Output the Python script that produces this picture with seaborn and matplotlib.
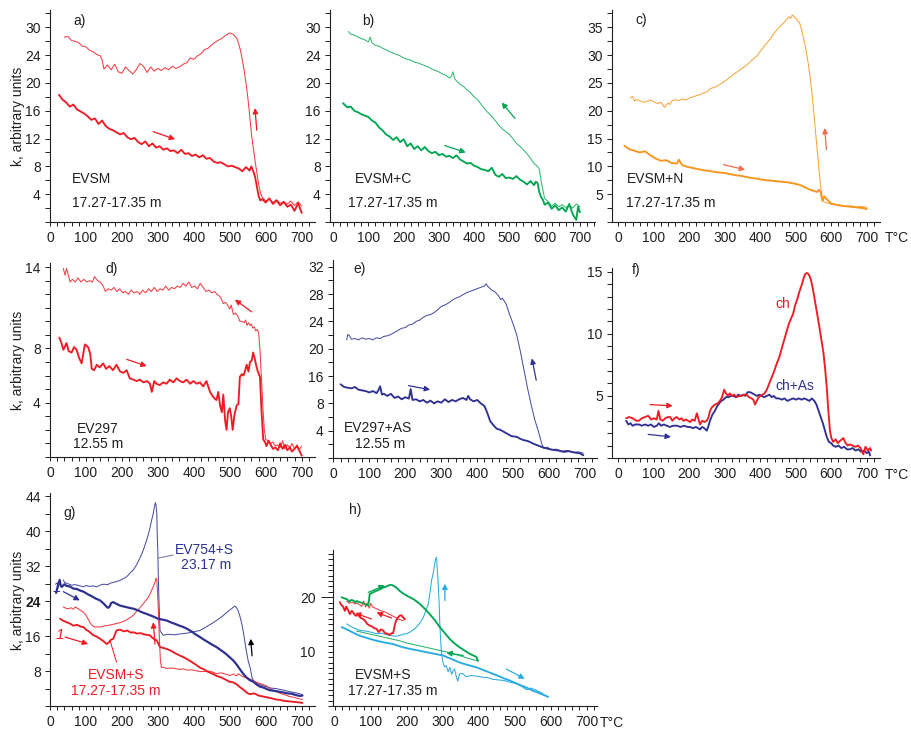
import matplotlib
matplotlib.use("Agg")
import matplotlib.pyplot as plt
import pandas as pd
import seaborn as sns
from matplotlib.ticker import MultipleLocator, FixedLocator, FixedFormatter

# ---------------------------------------------------------------- data
# (temperature °C, susceptibility) pairs; heating and cooling runs

a_heat = [(25,18.3),(35,17.6),(45,17.2),(55,16.6),(65,16.9),(75,16.2),(85,15.9),(95,15.6),(105,15.2),(115,14.7),(125,14.9),(135,14.1),(145,14.6),(155,13.8),(165,13.4),(175,13.2),(185,12.9),(195,12.6),(205,12.8),(215,12.2),(225,11.9),(235,12.1),(245,11.5),(255,11.2),(265,11.6),(275,10.9),(285,11.3),(295,10.7),(305,10.9),(315,10.4),(325,10.6),(335,10.2),(345,10.3),(355,9.9),(365,10.4),(375,9.8),(385,9.9),(395,9.5),(405,9.7),(415,9.3),(425,9.6),(435,9.1),(445,9.2),(455,8.7),(465,8.5),(475,8.6),(485,8.3),(495,8.0),(505,8.1),(515,7.9),(525,7.7),(535,7.3),(545,7.9),(555,7.4),(560,8.0),(565,7.3),(570,6.6),(575,5.2),(580,3.8),(585,3.1),(590,3.3),(600,2.8),(610,3.4),(620,2.6),(630,3.1),(640,2.4),(650,2.9),(660,2.2),(670,2.5),(680,1.6),(690,2.7),(700,1.3)]
a_cool = [(700,2.3),(690,2.9),(680,2.4),(670,3.0),(660,2.6),(650,2.9),(640,2.7),(630,3.2),(620,2.8),(610,3.3),(600,3.0),(590,3.6),(585,4.2),(580,5.5),(575,7.2),(570,8.9),(565,10.8),(560,12.8),(555,15.5),(550,18.0),(545,20.0),(540,21.8),(535,23.3),(530,24.6),(525,25.6),(520,26.4),(510,27.0),(500,27.2),(490,26.9),(480,26.5),(470,26.2),(460,25.9),(450,25.5),(440,25.0),(430,24.8),(420,24.2),(410,23.9),(400,23.4),(390,23.6),(380,22.9),(370,22.7),(360,22.3),(350,22.1),(340,22.4),(330,21.9),(320,22.2),(310,21.8),(300,22.1),(290,21.7),(280,22.3),(270,21.5),(260,22.4),(250,22.8),(240,21.9),(230,21.3),(220,21.8),(210,22.3),(200,21.4),(190,21.6),(180,22.7),(170,21.9),(160,22.6),(150,22.0),(145,23.3),(140,23.9),(130,24.1),(120,24.5),(110,24.7),(100,25.2),(90,25.3),(80,25.8),(70,26.0),(60,26.1),(50,26.7),(40,26.6)]

b_heat = [(28,17.1),(40,16.5),(50,16.6),(60,16.0),(70,15.8),(80,15.5),(90,15.3),(100,15.1),(110,14.6),(120,14.3),(130,13.6),(140,13.2),(150,12.6),(160,12.3),(170,11.8),(180,12.2),(190,11.5),(200,11.9),(210,10.9),(220,11.3),(230,10.5),(240,10.9),(250,10.3),(260,10.8),(270,10.2),(280,9.9),(290,10.1),(300,9.6),(310,9.8),(320,9.4),(330,9.5),(340,9.2),(350,9.6),(360,9.0),(370,8.7),(380,8.4),(390,8.5),(400,8.1),(410,7.9),(420,7.6),(430,7.5),(440,7.3),(450,7.8),(460,6.8),(470,6.5),(480,6.9),(490,6.3),(500,6.4),(510,6.2),(520,6.6),(530,6.1),(540,5.8),(550,5.4),(560,5.9),(570,5.3),(575,5.8),(580,5.6),(585,4.3),(590,3.6),(595,3.2),(600,2.5),(610,2.8),(620,1.9),(630,2.4),(640,1.7),(650,2.1),(660,1.5),(670,2.6),(680,1.1),(690,0.3),(695,2.2),(700,1.4)]
b_cool = [(700,2.2),(690,2.6),(680,2.0),(670,2.4),(660,2.1),(650,2.5),(640,2.2),(630,2.7),(620,2.3),(610,2.9),(600,3.4),(595,4.6),(590,6.0),(585,7.6),(580,8.0),(570,8.4),(560,9.2),(550,9.8),(540,10.4),(530,10.9),(520,11.3),(510,12.0),(500,12.6),(490,13.0),(480,13.4),(470,13.9),(460,14.6),(450,15.2),(440,15.7),(430,16.3),(420,16.9),(410,17.6),(400,18.0),(390,18.6),(380,19.0),(370,19.5),(360,19.8),(350,20.3),(345,20.6),(340,21.6),(335,20.9),(330,20.7),(320,21.1),(310,21.3),(300,21.6),(290,21.8),(280,22.0),(270,22.3),(260,22.5),(250,22.7),(240,22.9),(230,23.0),(220,23.3),(210,23.4),(200,23.6),(190,23.9),(180,24.1),(170,24.3),(160,24.5),(150,24.8),(140,25.0),(130,25.3),(120,25.4),(110,25.8),(105,26.6),(100,25.9),(90,26.2),(80,26.4),(70,26.6),(60,26.9),(50,27.0),(43,27.4)]

c_heat = [(17,13.7),(30,13.1),(45,12.8),(60,12.5),(75,12.7),(90,12.0),(105,11.4),(120,11.0),(135,11.1),(150,10.6),(165,10.5),(170,11.2),(180,10.2),(195,9.9),(210,9.7),(225,9.5),(240,9.3),(255,9.2),(270,9.0),(285,8.9),(300,8.8),(315,8.6),(330,8.4),(345,8.3),(360,8.1),(375,7.9),(390,7.8),(405,7.6),(420,7.5),(435,7.4),(450,7.3),(465,7.2),(480,7.1),(495,6.9),(510,6.7),(520,6.4),(530,6.1),(540,5.8),(550,5.6),(560,5.4),(565,5.8),(570,5.3),(575,3.8),(580,4.6),(590,3.9),(600,3.3),(615,3.1),(630,2.9),(645,2.8),(660,2.7),(675,2.6),(690,2.5),(700,2.3)]
c_cool = [(700,2.6),(685,2.8),(670,2.7),(655,2.9),(640,2.8),(625,3.0),(610,3.1),(600,3.2),(590,3.4),(580,3.6),(575,3.9),(570,6.4),(565,9.5),(560,13.0),(555,16.5),(550,20.1),(545,23.2),(540,26.1),(535,28.4),(530,30.4),(525,32.1),(520,33.5),(515,34.8),(510,35.9),(505,36.1),(500,36.6),(495,36.9),(490,37.2),(485,36.6),(480,36.9),(470,36.1),(460,35.4),(450,34.8),(440,34.0),(430,33.1),(420,32.3),(410,31.5),(400,30.7),(390,29.8),(380,29.3),(370,28.7),(360,28.1),(350,27.7),(340,27.2),(330,26.8),(320,26.3),(310,25.8),(300,25.3),(290,24.9),(280,24.5),(270,24.2),(260,24.0),(250,23.4),(240,23.2),(230,22.9),(220,22.7),(210,22.5),(200,22.3),(190,21.9),(180,22.1),(170,21.8),(160,22.0),(150,21.7),(145,21.1),(140,21.4),(130,20.6),(120,21.5),(110,21.3),(100,21.6),(90,21.9),(80,21.7),(70,21.5),(60,21.8),(50,22.0),(45,21.7),(40,22.6),(33,22.3)]

d_heat = [(26,8.8),(32,8.4),(37,7.9),(46,8.4),(52,7.8),(60,7.7),(67,8.1),(74,7.9),(81,7.3),(88,6.9),(97,8.3),(106,8.1),(112,7.6),(116,6.5),(123,6.4),(130,6.8),(138,6.6),(148,6.9),(156,6.5),(165,6.7),(175,6.4),(185,6.8),(195,6.3),(204,6.2),(213,6.4),(222,5.8),(232,5.7),(241,5.6),(250,5.7),(260,5.5),(270,5.6),(278,5.4),(283,4.8),(290,5.6),(296,5.4),(305,5.3),(315,5.5),(324,5.4),(333,5.7),(343,5.5),(352,5.8),(361,5.6),(370,5.5),(380,5.7),(390,5.4),(399,5.6),(408,5.4),(417,5.5),(426,5.2),(435,5.6),(445,4.8),(452,4.5),(458,4.3),(463,4.2),(468,4.8),(473,3.8),(478,3.3),(482,4.6),(487,2.7),(491,2.0),(495,3.3),(500,3.6),(504,3.0),(508,2.0),(513,3.1),(519,3.8),(524,3.9),(528,5.9),(533,6.1),(538,6.0),(543,6.4),(547,6.8),(552,6.3),(556,7.0),(561,7.1),(565,7.7),(569,7.3),(573,6.8),(578,6.3),(584,5.9),(588,3.5),(593,1.3),(598,1.1),(602,0.8),(608,1.2),(614,0.9),(620,0.6),(627,0.7),(634,0.5),(640,1.0),(647,0.6),(654,0.9),(660,0.5),(667,0.7),(673,0.4),(680,0.6),(687,0.8),(693,0.5),(700,0.1)]
d_cool = [(700,0.8),(693,0.5),(687,0.9),(680,0.6),(673,1.0),(667,0.7),(660,0.9),(653,0.6),(647,1.2),(640,0.7),(633,0.9),(627,0.8),(620,1.1),(613,1.0),(607,1.2),(600,1.3),(596,2.0),(592,3.7),(588,5.8),(584,7.9),(580,9.2),(576,9.4),(572,9.3),(568,9.6),(564,9.5),(560,9.8),(556,9.7),(552,9.9),(548,9.7),(544,10.1),(540,9.9),(534,10.0),(528,10.0),(522,10.4),(516,10.6),(510,10.5),(504,11.2),(500,10.9),(494,11.2),(488,11.4),(482,11.3),(476,11.7),(470,11.9),(464,12.0),(458,12.2),(450,12.1),(442,12.3),(434,12.2),(426,12.5),(418,12.8),(410,12.4),(402,12.6),(394,12.5),(386,12.9),(378,12.6),(370,12.8),(362,12.5),(354,12.6),(346,12.4),(338,12.5),(330,12.3),(322,12.6),(314,12.3),(306,12.4),(298,12.2),(290,12.5),(282,12.2),(274,12.4),(266,12.1),(258,12.3),(250,12.0),(242,12.2),(234,12.1),(226,12.3),(218,12.0),(210,12.2),(202,12.1),(194,12.4),(186,12.2),(178,12.5),(170,12.3),(162,12.4),(154,12.2),(148,12.6),(140,12.9),(132,13.0),(124,13.3),(118,12.9),(110,13.0),(102,12.9),(94,13.1),(86,12.9),(78,13.2),(70,12.9),(62,13.1),(56,12.9),(50,13.5),(46,13.9),(42,13.4),(37,13.9)]

e_heat = [(20,10.8),(30,10.4),(40,10.3),(50,10.2),(60,10.4),(70,10.0),(80,9.9),(90,9.8),(100,9.6),(110,9.8),(120,9.5),(125,9.9),(130,10.5),(135,9.3),(140,9.4),(150,9.1),(160,9.4),(170,8.8),(180,9.0),(190,8.6),(200,8.9),(210,8.7),(215,10.1),(220,8.5),(230,8.6),(240,8.3),(250,8.5),(260,8.1),(270,8.4),(280,8.0),(290,8.3),(300,8.1),(310,8.6),(320,8.2),(330,8.5),(340,8.3),(350,8.6),(360,8.8),(370,8.5),(375,9.1),(380,8.6),(390,8.3),(400,8.5),(410,8.0),(420,7.6),(425,7.0),(430,6.3),(436,5.4),(445,4.8),(454,4.3),(465,4.1),(475,3.8),(482,3.6),(495,3.2),(510,3.1),(520,2.8),(530,2.6),(540,2.5),(556,2.1),(570,1.8),(580,1.6),(593,1.4),(610,1.2),(625,1.1),(640,0.9),(655,1.0),(670,0.8),(685,0.7),(695,0.4)]
e_cool = [(695,0.7),(680,0.9),(665,0.8),(650,1.1),(635,1.0),(620,1.3),(605,1.2),(595,1.6),(585,1.4),(580,2.0),(570,3.9),(560,5.6),(550,7.8),(540,10.2),(530,12.9),(520,15.6),(510,18.0),(500,19.6),(490,21.0),(480,22.6),(470,23.4),(465,23.2),(460,23.7),(450,24.3),(440,24.6),(430,25.1),(425,25.5),(420,25.2),(410,25.0),(400,24.8),(390,24.6),(380,24.4),(370,24.2),(360,23.9),(350,23.6),(340,23.4),(330,23.1),(320,22.7),(310,22.4),(300,22.2),(290,21.7),(280,21.3),(270,21.0),(260,20.9),(250,20.6),(240,20.2),(230,20.0),(220,19.6),(210,19.5),(200,19.1),(190,19.0),(180,18.7),(170,18.4),(160,18.1),(150,17.9),(140,17.8),(130,17.5),(120,17.6),(110,17.3),(100,17.5),(90,17.4),(80,17.6),(70,17.3),(60,17.5),(50,17.4),(45,17.9),(40,18.1),(37,17.3)]

f_ch = [(22,3.2),(30,3.3),(40,3.2),(50,3.0),(58,3.0),(66,3.2),(75,3.3),(84,3.4),(92,3.1),(100,3.2),(108,3.1),(113,3.8),(118,3.1),(125,3.0),(132,3.2),(140,3.3),(146,3.3),(152,3.0),(158,3.2),(164,3.3),(172,3.1),(178,3.2),(183,3.0),(190,3.1),(196,3.0),(202,2.9),(208,3.1),(215,3.0),(221,3.6),(226,3.1),(230,2.7),(236,3.0),(242,2.9),(249,3.0),(254,3.3),(258,3.8),(264,4.1),(272,4.3),(280,4.4),(286,4.6),(292,4.9),(298,5.5),(303,5.2),(308,5.0),(314,5.2),(320,5.0),(326,5.1),(333,4.9),(340,5.0),(347,5.0),(354,5.1),(361,5.1),(368,4.9),(375,4.8),(380,4.7),(385,4.3),(390,4.6),(395,4.9),(400,5.0),(406,5.1),(412,5.2),(418,5.5),(425,6.0),(432,6.5),(439,7.0),(446,7.6),(453,8.1),(460,8.8),(467,9.5),(474,10.2),(480,10.8),(486,11.2),(492,11.6),(498,12.3),(504,12.8),(510,13.4),(516,13.9),(521,14.4),(526,14.8),(531,14.9),(536,14.8),(542,14.4),(548,13.6),(554,12.6),(560,11.6),(566,10.6),(572,9.5),(578,8.4),(583,7.0),(587,5.7),(591,4.0),(596,2.2),(600,1.6),(605,1.3),(612,1.5),(618,1.2),(625,1.4),(634,1.6),(640,1.2),(646,1.0),(652,1.1),(660,1.0),(668,0.9),(675,1.0),(682,0.8),(690,0.3),(696,0.9),(703,0.6),(709,0.8),(712,0.6)]
f_as = [(22,3.0),(28,2.7),(34,2.8),(40,2.6),(48,2.7),(58,2.7),(66,2.6),(75,2.7),(84,2.6),(92,2.7),(100,2.5),(108,2.6),(114,2.8),(120,2.6),(128,2.7),(136,2.6),(145,2.5),(155,2.6),(165,2.6),(175,2.5),(185,2.6),(195,2.5),(202,2.5),(210,2.4),(218,2.5),(225,2.4),(230,2.3),(236,2.5),(242,2.4),(249,2.2),(254,2.6),(258,3.0),(265,3.5),(272,3.8),(277,4.1),(284,4.4),(290,4.6),(296,4.7),(303,4.9),(310,4.9),(317,5.0),(324,5.0),(331,4.9),(338,5.1),(345,5.0),(352,5.1),(358,5.0),(364,5.3),(371,5.3),(378,5.2),(384,5.1),(390,5.0),(397,5.1),(404,5.0),(411,4.9),(418,5.0),(425,5.1),(432,4.9),(437,5.0),(445,4.8),(452,4.8),(460,4.7),(468,4.8),(476,4.6),(484,4.7),(492,4.8),(500,4.7),(508,4.8),(516,4.7),(524,4.8),(531,4.7),(538,4.6),(545,4.8),(552,4.6),(558,4.3),(564,3.8),(570,3.3),(576,2.8),(582,2.2),(587,1.7),(593,1.3),(599,1.2),(605,1.0),(612,0.9),(620,1.0),(628,0.8),(636,0.9),(644,0.7),(652,0.7),(660,0.8),(668,0.6),(676,0.7),(684,0.5),(692,0.6),(700,0.4),(706,0.5),(709,0.2)]

g_ev754_heat = [(17,25.9),(22,27.6),(27,28.9),(30,27.5),(33,27.3),(40,27.9),(46,27.5),(55,27.4),(65,26.9),(75,26.8),(85,26.4),(93,26.2),(105,25.6),(115,25.2),(125,24.7),(139,24.2),(150,23.4),(158,22.7),(162,22.5),(166,22.8),(170,23.6),(176,23.8),(185,23.4),(195,23.0),(205,22.8),(215,22.6),(225,22.4),(232,22.3),(245,21.9),(255,21.5),(265,21.2),(278,20.8),(290,20.4),(300,20.0),(312,19.8),(324,19.6),(335,19.2),(348,18.8),(360,18.4),(371,18.1),(383,17.6),(395,17.0),(405,16.4),(417,15.8),(428,15.2),(440,14.6),(452,14.0),(463,13.5),(475,12.8),(487,12.1),(498,11.3),(510,10.4),(520,9.4),(530,8.2),(540,7.1),(547,6.5),(556,5.9),(565,5.6),(575,4.9),(585,4.4),(595,4.2),(602,3.9),(612,3.6),(622,3.5),(635,3.3),(649,3.1),(660,2.9),(672,2.8),(684,2.5),(695,2.3),(702,2.4)]
g_ev754_cool = [(702,2.6),(690,2.9),(678,3.1),(665,3.3),(652,3.6),(640,3.8),(628,4.0),(615,4.1),(602,4.4),(590,4.7),(578,5.1),(568,5.4),(562,6.5),(557,8.6),(551,10.4),(546,12.6),(541,15.2),(537,17.3),(533,19.0),(528,20.6),(523,21.9),(518,22.6),(514,22.9),(508,22.5),(500,22.0),(491,21.4),(480,20.6),(470,20.0),(463,19.6),(450,18.9),(440,18.4),(428,17.8),(417,17.3),(405,17.1),(393,16.9),(382,16.7),(371,16.6),(360,16.5),(348,16.3),(336,16.4),(324,16.4),(315,16.2),(310,16.8),(306,17.2),(304,22.0),(302,27.0),(301,30.5),(300,35.0),(298,40.0),(297,44.0),(295,46.0),(293,46.6),(290,45.5),(287,44.0),(283,42.7),(278,40.8),(273,39.2),(269,38.1),(262,36.3),(256,35.0),(250,33.9),(243,32.7),(236,31.7),(232,31.2),(222,30.4),(213,29.6),(200,29.0),(185,28.5),(170,28.2),(160,27.8),(150,27.9),(139,27.7),(130,27.3),(120,27.5),(110,27.4),(100,27.6),(93,27.3),(80,27.6),(70,27.8),(60,27.7),(50,28.0),(46,28.1),(40,28.4),(37,28.9)]
g_evsm_heat = [(28,20.0),(35,19.6),(46,19.2),(55,18.9),(65,18.4),(75,18.6),(85,18.2),(93,18.1),(100,17.5),(108,17.1),(115,16.6),(121,16.2),(130,15.9),(139,15.4),(148,14.9),(155,14.4),(158,14.2),(164,14.6),(170,15.2),(176,15.4),(180,16.3),(185,17.3),(195,17.5),(205,17.1),(215,17.3),(225,16.8),(232,16.9),(242,16.6),(252,16.7),(262,16.4),(270,16.3),(278,16.2),(285,15.6),(292,15.2),(297,15.0),(302,14.2),(306,13.5),(315,13.3),(324,13.1),(335,12.7),(348,12.1),(360,11.6),(371,11.2),(382,10.7),(394,10.1),(405,9.5),(417,8.8),(428,8.4),(440,7.8),(452,7.4),(463,6.9),(475,6.6),(487,6.1),(498,5.6),(510,5.4),(520,4.9),(530,4.2),(540,3.6),(548,3.0),(556,2.7),(568,2.9),(580,2.4),(591,2.2),(602,2.0),(615,1.8),(628,1.5),(640,1.4),(649,1.2),(660,1.1),(672,1.0),(684,0.9),(695,0.8),(702,0.7)]
g_evsm_cool = [(702,1.5),(690,1.7),(678,2.0),(665,2.2),(652,2.6),(640,2.9),(628,3.4),(615,3.8),(602,4.6),(590,5.0),(578,5.3),(565,5.8),(556,6.2),(548,6.4),(540,6.6),(530,7.0),(523,7.4),(519,6.9),(510,7.3),(500,7.0),(488,7.3),(475,7.6),(463,7.4),(452,7.8),(440,8.0),(428,7.9),(417,7.9),(405,8.1),(393,8.3),(382,8.2),(371,8.5),(360,8.4),(348,8.6),(336,8.7),(324,8.6),(315,8.9),(310,8.8),(307,10.5),(305,14.0),(303,18.0),(301,22.7),(299,26.0),(297,28.9),(295,29.3),(292,28.4),(288,27.5),(283,26.6),(278,25.6),(270,24.5),(260,23.5),(250,22.5),(240,21.6),(232,20.8),(220,20.1),(208,19.5),(196,19.1),(185,18.9),(170,18.6),(155,18.4),(139,18.1),(125,18.1),(118,18.4),(112,19.0),(106,19.9),(100,20.8),(93,21.5),(85,21.9),(78,22.3),(70,22.7),(65,22.2),(58,22.5),(52,22.3),(46,22.3),(40,22.6),(37,22.7)]

h_green_heat = [(19,20.0),(27,19.8),(35,19.6),(40,19.2),(45,19.5),(52,19.4),(57,19.0),(60,19.3),(70,19.1),(78,18.9),(85,18.7),(93,18.5),(95,19.4),(97,20.6),(106,20.9),(116,21.2),(126,21.5),(135,21.8),(144,22.0),(150,22.2),(157,22.3),(164,22.1),(171,21.8),(180,21.2),(190,20.7),(200,20.3),(209,20.0),(220,19.6),(236,18.8),(250,17.9),(264,16.9),(278,15.8),(292,14.5),(306,13.4),(320,12.3),(333,11.5),(347,10.8),(361,10.2),(375,9.6),(385,9.3),(394,9.0),(398,8.3)]
h_green_cool = [(398,8.3),(380,8.6),(360,9.0),(340,9.4),(320,9.8),(300,10.1),(280,10.4),(260,10.7),(240,11.0),(220,11.3),(200,11.6),(180,12.0),(160,12.3),(140,12.6),(120,12.9),(100,13.2),(80,13.5),(60,13.8)]
h_red_heat = [(14,19.1),(18,18.6),(23,18.3),(28,17.5),(32,18.3),(37,17.6),(42,16.9),(47,17.5),(51,17.2),(56,16.7),(60,16.6),(66,16.9),(72,16.2),(79,16.0),(85,15.6),(90,15.1),(97,14.8),(104,14.6),(110,14.3),(116,14.2),(122,13.6),(128,14.1),(134,13.9),(140,13.4),(147,13.3),(153,13.1),(158,13.4),(162,13.4),(165,14.2),(167,15.0),(171,15.8),(176,16.3),(180,16.6),(185,16.7),(190,16.3),(195,16.0)]
h_red_cool = [(195,16.0),(190,15.7),(180,15.9),(171,16.2),(160,16.6),(150,16.9),(144,17.2),(135,17.4),(125,17.6),(116,17.9),(105,18.2),(100,18.9),(96,18.0),(90,19.0),(86,18.2),(80,19.3),(75,18.3),(70,18.6),(62,18.9),(55,18.8),(48,19.1),(40,18.9),(33,19.3)]
h_blue_heat = [(19,14.5),(30,14.2),(45,13.7),(60,13.2),(70,12.9),(85,12.6),(100,12.3),(116,12.0),(130,11.8),(145,11.6),(162,11.4),(175,11.1),(190,10.8),(209,10.5),(225,10.3),(240,10.1),(255,9.9),(270,9.7),(285,9.5),(301,9.3),(315,8.9),(330,8.5),(347,8.0),(362,7.7),(378,7.4),(394,7.1),(410,6.7),(425,6.3),(440,5.9),(456,5.5),(470,5.1),(486,4.7),(500,4.3),(517,3.8),(533,3.4),(548,2.9),(563,2.5),(578,2.1),(593,1.7)]
h_blue_cool = [(593,1.6),(575,2.4),(560,2.9),(545,3.3),(533,3.0),(520,3.6),(505,4.1),(486,4.4),(470,4.7),(455,4.8),(440,4.9),(425,5.2),(410,5.3),(394,5.5),(380,5.6),(365,5.4),(355,6.0),(347,5.9),(342,4.6),(338,5.3),(333,6.8),(329,6.5),(325,5.8),(320,7.1),(315,6.3),(310,7.4),(305,7.2),(301,8.0),(298,9.2),(296,10.2),(294,12.5),(292,15.1),(290,19.0),(287,23.1),(284,26.0),(283,27.4),(280,27.0),(278,26.2),(274,24.6),(269,23.1),(265,21.0),(260,18.8),(253,17.5),(246,16.3),(237,15.3),(227,14.5),(218,14.0),(209,13.6),(200,13.3),(190,13.2),(180,13.0),(170,12.8),(162,12.9),(150,13.0),(140,13.2),(130,13.4),(116,13.3),(100,13.6),(85,13.8),(70,13.9),(55,14.3),(45,14.6),(33,15.1)]

# y tick positions and the labels printed at them
ab_yticks = [4, 8, 12, 16, 20, 24, 28]
ab_ylabels = ["4", "8", "12", "16", "20", "24", "30"]
c_yticks = [5, 10, 15, 20, 25, 30, 35]
c_ylabels = ["5", "10", "15", "20", "25", "30", "35"]
d_yticks = [4, 8, 14]
d_ylabels = ["4", "8", "14"]
e_yticks = [4, 8, 12, 16, 20, 24, 28]
e_ylabels = ["4", "8", "16", "20", "24", "28", "32"]
f_yticks = [5, 10, 15]
f_ylabels = ["5", "10", "15"]
g_yticks = [8, 16, 24, 32, 40, 48]
g_ylabels = ["8", "16", "24", "32", "40", "44"]
h_yticks = [10, 20]
h_ylabels = ["10", "20"]
x_ticks = [0, 100, 200, 300, 400, 500, 600, 700]
x_labels = ["0", "100", "200", "300", "400", "500", "600", "700"]

# ---------------------------------------------------------------- style
RED = "#ED1C24"
GREEN = "#00A651"
ORANGE = "#F7941D"
NAVY = "#2E3192"
CYAN = "#29ABE2"
SALMON = "#F26C4F"
INK = "#231F20"
THICK, THIN = 1.35, 0.75

sns.set_style("ticks")
plt.rcParams["font.family"] = ["Liberation Sans", "DejaVu Sans"]
plt.rcParams["font.size"] = 10

W, H = 912, 731
fig = plt.figure(figsize=(W / 100, H / 100), dpi=100)
fig.patch.set_facecolor("white")


def add_panel(left, top, right, bottom, xlim, ylim):
    ax = fig.add_axes([left / W, 1 - bottom / H, (right - left) / W, (bottom - top) / H])
    ax.set_xlim(*xlim)
    ax.set_ylim(*ylim)
    ax.set_facecolor("none")
    for s in ("top", "right"):
        ax.spines[s].set_visible(False)
    for s in ("left", "bottom"):
        ax.spines[s].set_color(INK)
        ax.spines[s].set_linewidth(0.8)
    return ax


def style_ticks(ax, yticks, ylabels, yminor):
    ax.xaxis.set_major_locator(FixedLocator(x_ticks))
    ax.xaxis.set_major_formatter(FixedFormatter(x_labels))
    ax.xaxis.set_minor_locator(MultipleLocator(20))
    ax.yaxis.set_major_locator(FixedLocator(yticks))
    ax.yaxis.set_major_formatter(FixedFormatter(ylabels))
    ax.yaxis.set_minor_locator(MultipleLocator(yminor))
    ax.tick_params(axis="x", which="both", direction="out", length=2.6, width=0.7,
                   color=INK, labelcolor=INK, labelsize=10, pad=4.2)
    ax.tick_params(axis="y", which="both", direction="out", length=3.4, width=0.7,
                   color=INK, labelcolor=INK, labelsize=10, pad=3.2)
    ax.set_xlabel("")
    ax.set_ylabel("")


def curve(ax, pts, color, lw, alpha=1.0):
    df = pd.DataFrame(pts, columns=["T", "k"])
    sns.lineplot(data=df, x="T", y="k", sort=False, estimator=None, color=color,
                 linewidth=lw, alpha=alpha, ax=ax, legend=False)


def arrow(ax, seg, color):
    (x0, y0), (x1, y1) = seg
    ax.annotate("", xy=(x1, y1), xytext=(x0, y0),
                arrowprops=dict(arrowstyle="-|>", color=color, lw=0.9,
                                mutation_scale=8, shrinkA=0, shrinkB=0))


def ftext(x, y, s, **kw):
    kw.setdefault("va", "center")
    kw.setdefault("ha", "left")
    kw.setdefault("fontsize", 10)
    kw.setdefault("color", INK)
    fig.text(x / W, 1 - y / H, s, **kw)


# ---------------------------------------------------------------- a)
ax = add_panel(50, 10, 315, 222, (0, 737), (0, 30.5))
curve(ax, a_cool, RED, THIN, 0.85)
curve(ax, a_heat, RED, THICK)
arrow(ax, [(287, 13.0), (348, 11.9)], RED)
arrow(ax, [(575, 13.2), (570, 16.4)], RED)
style_ticks(ax, ab_yticks, ab_ylabels, 2)
ftext(73, 21, "a)")
ftext(72, 179, "EVSM")
ftext(72, 203, "17.27-17.35 m")

# ---------------------------------------------------------------- b)
ax = add_panel(330, 10, 595, 222, (-9, 743), (0, 30.5))
curve(ax, b_cool, GREEN, THIN, 0.8)
curve(ax, b_heat, GREEN, THICK)
arrow(ax, [(317, 11.0), (376, 10.0)], GREEN)
arrow(ax, [(516, 14.9), (478, 17.2)], GREEN)
style_ticks(ax, ab_yticks, ab_ylabels, 2)
ftext(362, 21, "b)")
ftext(355, 179, "EVSM+C")
ftext(348, 203, "17.27-17.35 m")

# ---------------------------------------------------------------- c)
ax = add_panel(612, 10, 880, 222, (-18, 737), (0, 38.1))
curve(ax, c_cool, ORANGE, THIN, 0.85)
curve(ax, c_heat, ORANGE, THICK)
arrow(ax, [(296, 10.3), (357, 9.4)], SALMON)
arrow(ax, [(586, 13.0), (581, 16.9)], SALMON)
style_ticks(ax, c_yticks, c_ylabels, 2.5)
ftext(635, 20, "c)")
ftext(627, 179, "EVSM+N")
ftext(626, 203, "17.27-17.35 m")
ftext(885, 238, "T°C")

# ---------------------------------------------------------------- d)
ax = add_panel(50, 263, 315, 457, (0, 737), (0, 14.3))
curve(ax, d_cool, RED, THIN, 0.85)
curve(ax, d_heat, RED, THICK)
arrow(ax, [(213, 7.2), (269, 6.7)], RED)
arrow(ax, [(561, 10.7), (514, 11.6)], RED)
style_ticks(ax, d_yticks, d_ylabels, 1)
ftext(105, 269, "d)")
ftext(77, 429, "EV297")
ftext(73, 444, "12.55 m")

# ---------------------------------------------------------------- e)
ax = add_panel(333, 260, 597, 458, (-1, 733), (0, 29))
curve(ax, e_cool, NAVY, THIN, 0.85)
curve(ax, e_heat, NAVY, THICK)
arrow(ax, [(209, 10.6), (269, 10.0)], NAVY)
arrow(ax, [(564, 11.4), (552, 14.6)], NAVY)
style_ticks(ax, e_yticks, e_ylabels, 2)
ftext(353, 269, "e)")
ftext(344, 428, "EV297+AS")
ftext(355, 444, "12.55 m")

# ---------------------------------------------------------------- f)
ax = add_panel(612, 268, 880, 458, (-18, 737), (0, 15.3))
curve(ax, f_as, NAVY, THICK)
curve(ax, f_ch, RED, THICK)
arrow(ax, [(89, 4.3), (153, 4.2)], RED)
arrow(ax, [(84, 1.9), (148, 1.7)], NAVY)
style_ticks(ax, f_yticks, f_ylabels, 1)
ftext(632, 270, "f)")
ftext(775, 304, "ch", color=RED)
ftext(775, 386, "ch+As", color=NAVY)
ftext(885, 475, "T°C")

# ---------------------------------------------------------------- g)
ax = add_panel(50, 493, 315, 706, (0, 737), (0, 48.8))
curve(ax, g_ev754_cool, NAVY, THIN, 0.85)
curve(ax, g_evsm_cool, RED, THIN, 0.85)
curve(ax, g_ev754_heat, NAVY, 1.6)
curve(ax, g_evsm_heat, RED, THICK)
arrow(ax, [(37, 26.2), (83, 24.2)], NAVY)
arrow(ax, [(42, 15.8), (106, 14.2)], RED)
arrow(ax, [(292, 14.2), (287, 19.2)], RED)
arrow(ax, [(562, 11.5), (558, 15.4)], "black")
g_ev754_leader = [(301, 33.9), (343, 34.6)]
g_evsm_leader = [(185, 10.0), (167, 15.0)]
ax.plot(*zip(*g_ev754_leader), color="#6D6E9C", lw=0.7)
ax.plot(*zip(*g_evsm_leader), color=RED, lw=0.7)
style_ticks(ax, g_yticks, g_ylabels, 4)
for lab in ax.get_yticklabels():
    if lab.get_text() == "24":
        lab.set_fontweight("bold")
ftext(63, 513, "g)")
ftext(204, 550, "EV754+S", color=NAVY, ha="center")
ftext(206, 565, "23.17 m", color=NAVY, ha="center")
ftext(116, 675, "EVSM+S", color=RED, ha="center")
ftext(116, 691, "17.27-17.35 m", color=RED, ha="center")
ftext(60, 635, "1", color=RED, style="italic", fontsize=11, ha="center")
ftext(57, 588, "1", color=NAVY, style="italic", fontsize=11, ha="center")

# ---------------------------------------------------------------- h)
ax = add_panel(333, 550, 597, 706, (-5, 729), (0, 28.7))
curve(ax, h_blue_cool, CYAN, THIN)
curve(ax, h_green_cool, GREEN, THIN, 0.85)
curve(ax, h_red_cool, RED, THIN, 0.85)
curve(ax, h_blue_heat, CYAN, THICK)
curve(ax, h_green_heat, GREEN, THICK)
curve(ax, h_red_heat, RED, THICK)
arrow(ax, [(93, 20.9), (139, 22.2)], GREEN)
arrow(ax, [(357, 9.3), (310, 9.8)], GREEN)
arrow(ax, [(102, 16.0), (56, 17.1)], RED)
arrow(ax, [(158, 16.2), (116, 17.2)], RED)
arrow(ax, [(306, 19.4), (306, 22.5)], CYAN)
arrow(ax, [(477, 6.8), (528, 5.0)], CYAN)
style_ticks(ax, h_yticks, h_ylabels, 1)
ax.tick_params(axis="y", which="major", pad=9)
for t, v in zip(ax.yaxis.get_major_ticks(), h_yticks):
    if v == 20:
        t.tick1line.set_color(RED)
        t.tick1line.set_markersize(9)
ftext(349, 510, "h)")
ftext(355, 675, "EVSM+S")
ftext(348, 691, "17.27-17.35 m")
ftext(600, 723, "T°C")

# ---------------------------------------------------------------- row labels
for yc in (116, 360, 600):
    ftext(18, yc, "k, arbitrary units", rotation=90, ha="center")

fig.savefig("out.png", dpi=100, facecolor="white")
